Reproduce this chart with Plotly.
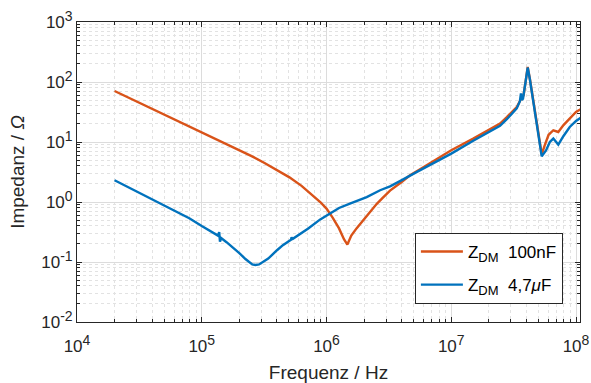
import plotly.graph_objects as go

# Z_DM 100nF
freq_100n = [2.0e4, 3.16e4, 5.0e4, 1.0e5, 1.58e5, 2.0e5, 2.51e5, 3.16e5, 3.98e5, 5.01e5,
             6.31e5, 7.94e5, 8.91e5, 1.0e6, 1.12e6, 1.26e6, 1.38e6, 1.47e6, 1.58e6,
             1.74e6, 1.91e6, 2.19e6, 2.53e6, 2.82e6, 3.23e6, 3.98e6, 4.67e6, 5.45e6, 8.13e6,
             1.0e7, 1.5e7, 2.46e7, 2.79e7, 3.35e7, 3.63e7, 3.80e7, 3.94e7, 4.1e7, 4.27e7,
             4.55e7, 4.9e7, 5.31e7, 5.62e7, 6.03e7, 6.58e7, 6.92e7, 7.21e7, 7.94e7, 8.91e7,
             1.0e8, 1.11e8]
z_100n = [70.8, 45.2, 28.8, 14.7, 9.33, 7.41, 5.82, 4.52, 3.47, 2.60,
          1.86, 1.26, 1.0, 0.776, 0.55, 0.363, 0.24, 0.195, 0.275,
          0.363, 0.457, 0.661, 0.933, 1.175, 1.55, 2.14, 2.79, 3.37, 5.62,
          7.28, 11.4, 20.3, 26.1, 38.3, 52.5, 60.3, 100, 178, 112,
          49.5, 17.8, 6.24, 8.9, 13.2, 15.7, 15.1, 14.7, 19.1, 25.1,
          31.6, 36.1]

# Z_DM 4,7uF
freq_4u7 = [2.0e4, 3.16e4, 5.0e4, 7.94e4, 1.0e5, 1.26e5, 1.35e5, 1.38e5, 1.40e5, 1.43e5,
            1.58e5, 2.0e5, 2.24e5, 2.54e5, 2.69e5, 2.88e5, 3.16e5, 3.41e5, 4.01e5, 4.47e5,
            5.19e5, 5.25e5, 5.37e5, 6.31e5, 7.14e5, 8.91e5, 1.07e6, 1.26e6, 1.54e6, 2.1e6,
            2.69e6, 3.23e6, 3.98e6, 4.67e6, 5.45e6, 8.13e6, 1.0e7, 1.5e7, 2.46e7, 2.79e7,
            3.35e7, 3.55e7, 3.62e7, 3.68e7, 3.76e7, 3.94e7, 4.1e7, 4.27e7, 4.55e7, 4.9e7,
            5.31e7, 5.75e7, 6.17e7, 6.58e7, 6.92e7, 7.21e7, 7.94e7, 8.91e7, 1.0e8, 1.11e8]
z_4u7 = [2.30, 1.41, 0.891, 0.537, 0.398, 0.302, 0.275, 0.316, 0.219, 0.251,
         0.214, 0.141, 0.112, 0.0912, 0.0891, 0.0912, 0.105, 0.114, 0.157, 0.191,
         0.234, 0.257, 0.243, 0.302, 0.361, 0.513, 0.656, 0.794, 0.94, 1.21,
         1.57, 1.82, 2.29, 2.79, 3.27, 5.09, 6.41, 10.5, 18.6, 24.0,
         36.3, 47.9, 64.6, 50.1, 52.5, 100, 174, 110, 47.9, 15.8,
         5.75, 7.24, 10.0, 11.4, 10.0, 9.06, 12.6, 17.8, 22.4, 26.1]

x_tickvals = [1e4, 1e5, 1e6, 1e7, 1e8]
x_exponents = ["4", "5", "6", "7", "8"]
y_tickvals = [1e-2, 1e-1, 1e0, 1e1, 1e2, 1e3]
y_exponents = ["-2", "-1", "0", "1", "2", "3"]

names = ["Z<sub><span style='font-size:13px'>DM</span></sub>&nbsp; 100nF",
         "Z<sub><span style='font-size:13px'>DM</span></sub>&nbsp; 4,7<i>μ</i>F"]
colors = ["#D95319", "#0072BD"]

FONT = "Liberation Sans, Arial, Helvetica, sans-serif"
TXT = "#262626"


def pow_label(e):
    return "10<sup><span style='font-size:14px'>" + e + "</span></sup>"


fig = go.Figure()
fig.add_trace(go.Scatter(x=freq_100n, y=z_100n, mode="lines", name=names[0],
                         legendgroup="a", line=dict(color=colors[0], width=2.4)))
fig.add_trace(go.Scatter(x=freq_4u7, y=z_4u7, mode="lines", name=names[1],
                         legendgroup="b", line=dict(color=colors[1], width=2.4)))

axis_common = dict(
    showline=True, linecolor=TXT, linewidth=1, mirror="ticks",
    ticks="inside", ticklen=5, tickcolor=TXT, tickwidth=1,
    showgrid=True, gridcolor="#dcdcdc", gridwidth=1,
    zeroline=False, ticklabeloverflow="allow", automargin=False,
    tickfont=dict(family=FONT, size=17, color=TXT),
    minor=dict(ticks="inside", ticklen=3, tickcolor=TXT, dtick="D1",
               showgrid=True, gridcolor="#e2e2e2", griddash="dot", gridwidth=1),
)

fig.update_xaxes(type="log", range=[4, 8.032], tickmode="array",
                 tickvals=x_tickvals, ticktext=[pow_label(e) for e in x_exponents],
                 ticklabelstandoff=9,
                 title=dict(text="Frequenz / Hz", standoff=10,
                            font=dict(family=FONT, size=19, color=TXT)),
                 **axis_common)
fig.update_yaxes(type="log", range=[-2, 3], tickmode="array",
                 tickvals=y_tickvals, ticktext=[pow_label(e) for e in y_exponents],
                 title=dict(text="Impedanz / <i>Ω</i>", standoff=11,
                            font=dict(family=FONT, size=19, color=TXT)),
                 **axis_common)

fig.update_layout(
    width=591, height=383,
    margin=dict(l=77, r=11, t=22, b=61),
    paper_bgcolor="white", plot_bgcolor="white",
    font=dict(family=FONT, size=17, color=TXT),
    showlegend=True,
    legend=dict(x=0.966, y=0.06, xanchor="right", yanchor="bottom",
                bgcolor="white", bordercolor=TXT, borderwidth=1,
                font=dict(family=FONT, size=17, color="#000000"),
                tracegroupgap=8, itemwidth=42),
)

fig.write_html("out.html", config={"displayModeBar": False},
               post_script="document.body.style.margin='0px';document.body.style.overflow='hidden';")
